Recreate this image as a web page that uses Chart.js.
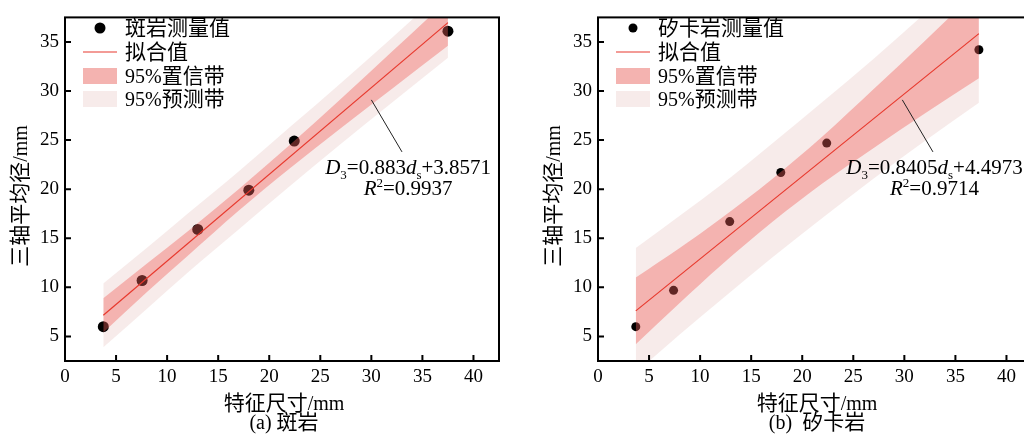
<!DOCTYPE html>
<html>
<head>
<meta charset="utf-8">
<script src="https://cdn.jsdelivr.net/npm/chart.js@4.4.0/dist/chart.umd.min.js"></script>
<style>
  html, body { margin: 0; padding: 0; background: #fff; overflow: hidden; width: 1024px; height: 441px; }
  .panel { position: absolute; top: 0; width: 540px; height: 441px; }
</style>
</head>
<body>
<div class="panel" style="left:0"><canvas id="chartA" width="520" height="441"></canvas></div>
<div class="panel" style="left:533px"><canvas id="chartB" width="520" height="441"></canvas></div>
<script>
const xTicks = [0, 5, 10, 15, 20, 25, 30, 35, 40];
const yTicks = [5, 10, 15, 20, 25, 30, 35];

// (a) 斑岩
const porphyryX = [3.75, 7.55, 13.0, 18.0, 22.45, 37.5];
const porphyryY = [6.0, 10.7, 15.9, 19.9, 24.9, 36.1];
const porphyrySlope = 0.883;
const porphyryIntercept = 3.8571;
const porphyryR2 = '0.9937';
const porphyryBandX = [3.75, 8, 12, 17, 22, 27, 32, 37.5];
const porphyryConfUpper = [8.9, 12.4, 15.7, 20.0, 24.5, 29.2, 34.0, 39.3];
const porphyryConfLower = [5.4, 9.5, 13.2, 17.8, 22.1, 26.2, 30.2, 34.6];
const porphyryPredUpper = [10.4, 14.0, 17.5, 21.8, 26.3, 30.8, 35.4, 40.6];
const porphyryPredLower = [3.9, 7.8, 11.5, 15.9, 20.3, 24.6, 28.8, 33.4];

// (b) 矽卡岩
const skarnX = [3.7, 7.4, 12.9, 17.9, 22.4, 37.3];
const skarnY = [6.0, 9.7, 16.7, 21.7, 24.7, 34.2];
const skarnSlope = 0.8405;
const skarnIntercept = 4.4973;
const skarnR2 = '0.9714';
const skarnBandX = [3.7, 8, 12, 17, 22, 27, 32, 37.3];
const skarnConfUpper = [11.0, 14.0, 17.0, 21.0, 25.4, 30.2, 35.1, 40.4];
const skarnConfLower = [4.2, 8.4, 12.2, 16.6, 20.6, 24.2, 27.7, 31.3];
const skarnPredUpper = [14.0, 17.3, 20.4, 24.6, 28.9, 33.3, 37.9, 42.9];
const skarnPredLower = [1.3, 5.2, 8.7, 13.0, 17.1, 21.1, 24.9, 28.8];

const SERIF = '"Liberation Serif", serif';
const CJK = '"Noto Sans CJK SC", sans-serif';
const RED = '#e8392e';
const CONF_FILL = 'rgba(240, 95, 90, 0.4)';
const PRED_FILL = 'rgba(223, 175, 171, 0.25)';

const pts = (xs, ys) => xs.map((x, i) => ({ x: x, y: ys[i] }));

// text helpers: Chinese runs in the CJK face, the rest in the serif
const isCjk = s => /[\u3400-\u9fff]/.test(s);
const splitRuns = s => s.match(/[\u3400-\u9fff]+|[^\u3400-\u9fff]+/g) || [];
const runFont = s => isCjk(s) ? '21px ' + CJK : '20px ' + SERIF;

function mixedWidth(ctx, str) {
  return splitRuns(str).reduce((w, r) => { ctx.font = runFont(r); return w + ctx.measureText(r).width; }, 0);
}

function drawMixed(ctx, str, x, y, center) {
  let cx = center ? x - mixedWidth(ctx, str) / 2 : x;
  ctx.textAlign = 'left';
  ctx.textBaseline = 'alphabetic';
  splitRuns(str).forEach(r => {
    ctx.font = runFont(r);
    ctx.fillText(r, cx, y + 7);
    cx += ctx.measureText(r).width;
  });
}

function drawRich(ctx, parts, cx, baseline, size) {
  const fontFor = p => (p.italic ? 'italic ' : '') + ((p.sub || p.sup) ? Math.round(size * 0.6) : size) + 'px ' + SERIF;
  let total = 0;
  parts.forEach(p => { ctx.font = fontFor(p); total += ctx.measureText(p.t).width; });
  let x = cx - total / 2;
  ctx.textAlign = 'left';
  ctx.textBaseline = 'alphabetic';
  parts.forEach(p => {
    ctx.font = fontFor(p);
    const dy = p.sub ? size * 0.22 : p.sup ? -size * 0.36 : 0;
    ctx.fillText(p.t, x, baseline + dy);
    x += ctx.measureText(p.t).width;
  });
}

const framePlugin = {
  id: 'frame',
  afterDraw(chart, args, opts) {
    const { ctx, chartArea: a } = chart;
    const xs = chart.scales.x, ys = chart.scales.y;
    ctx.save();

    // box and inward ticks
    ctx.strokeStyle = '#000';
    ctx.lineWidth = 2;
    ctx.strokeRect(a.left, a.top, a.right - a.left, a.bottom - a.top);
    ctx.beginPath();
    xs.ticks.forEach(t => {
      const px = xs.getPixelForValue(t.value);
      ctx.moveTo(px, a.bottom);
      ctx.lineTo(px, a.bottom - 6);
    });
    ys.ticks.forEach(t => {
      const py = ys.getPixelForValue(t.value);
      ctx.moveTo(a.left, py);
      ctx.lineTo(a.left + 6, py);
    });
    ctx.stroke();

    // legend
    const ds = chart.data.datasets;
    const rows = [28, 52, 76, 99];
    ctx.fillStyle = '#000';
    ctx.beginPath();
    ctx.arc(100, rows[0], ds[opts.pointIndex].pointRadius, 0, Math.PI * 2);
    ctx.fill();
    ctx.strokeStyle = RED;
    ctx.lineWidth = 1.2;
    ctx.beginPath();
    ctx.moveTo(83, rows[1]);
    ctx.lineTo(117, rows[1]);
    ctx.stroke();
    ctx.fillStyle = PRED_FILL;
    ctx.fillRect(83, rows[2] - 8, 34, 16);
    ctx.fillStyle = CONF_FILL;
    ctx.fillRect(83, rows[2] - 8, 34, 16);
    ctx.fillStyle = PRED_FILL;
    ctx.fillRect(83, rows[3] - 8, 34, 16);
    ctx.fillStyle = '#000';
    [opts.pointLabel, '拟合值', '95%置信带', '95%预测带'].forEach((t, i) => drawMixed(ctx, t, 125, rows[i], false));

    // fit equation with leader line
    ctx.strokeStyle = '#222';
    ctx.lineWidth = 1;
    ctx.beginPath();
    ctx.moveTo(xs.getPixelForValue(opts.leader[0]), ys.getPixelForValue(opts.leader[1]));
    ctx.lineTo(xs.getPixelForValue(opts.leader[2]), ys.getPixelForValue(opts.leader[3]));
    ctx.stroke();
    const tx = xs.getPixelForValue(opts.textX);
    ctx.fillStyle = '#000';
    drawRich(ctx, [
      { t: 'D', italic: true }, { t: '3', sub: true }, { t: '=' + opts.slope },
      { t: 'd', italic: true }, { t: 's', sub: true }, { t: '+' + opts.intercept }
    ], tx, 174, 21);
    drawRich(ctx, [{ t: 'R', italic: true }, { t: '2', sup: true }, { t: '=' + opts.r2 }], tx, 195, 21);

    // axis titles and caption
    const mid = (a.left + a.right) / 2 + 2;
    drawMixed(ctx, '特征尺寸/mm', mid, 403, true);
    drawMixed(ctx, opts.caption, mid, 422, true);
    ctx.translate(opts.yTitleX, 196);
    ctx.rotate(-Math.PI / 2);
    drawMixed(ctx, '三轴平均径/mm', 0, 0, true);
    ctx.restore();
  }
};

function makePanel(id, p) {
  const x0 = p.bandX[0], x1 = p.bandX[p.bandX.length - 1];
  const fitLine = [{ x: x0, y: p.slope * x0 + p.intercept }, { x: x1, y: p.slope * x1 + p.intercept }];
  const band = (ys, fill, order) => ({
    data: pts(p.bandX, ys), fill: fill, backgroundColor: fill ? (order === 1 ? CONF_FILL : PRED_FILL) : 'transparent',
    borderWidth: 0, pointRadius: 0, order: order, cubicInterpolationMode: 'monotone'
  });
  const tickFont = { family: 'Liberation Serif', size: 19 };
  return new Chart(document.getElementById(id), {
    type: 'line',
    data: {
      datasets: [
        { label: '拟合值', data: fitLine, borderColor: RED, borderWidth: 1.2, pointRadius: 0, fill: false, order: 0 },
        band(p.confUpper, '+1', 1),
        band(p.confLower, false, 1),
        { label: p.pointLabel, data: pts(p.x, p.y), showLine: false, pointRadius: p.radius,
          pointBackgroundColor: '#000', pointBorderWidth: 0, order: 2 },
        band(p.predUpper, '+1', 3),
        band(p.predLower, false, 3)
      ]
    },
    options: {
      responsive: false,
      animation: false,
      events: [],
      layout: { padding: { left: 0, right: 21, top: 11, bottom: 0 } },
      scales: {
        x: {
          type: 'linear', min: 0, max: 42.5,
          afterBuildTicks: s => { s.ticks = xTicks.map(v => ({ value: v })); },
          afterFit: s => { s.height = 80; },
          grid: { display: false, drawTicks: false },
          border: { display: false },
          ticks: { padding: 5, color: '#000', font: tickFont, maxRotation: 0, autoSkip: false }
        },
        y: {
          type: 'linear', min: 2.5, max: 37.5,
          afterBuildTicks: s => { s.ticks = yTicks.map(v => ({ value: v })); },
          afterFit: s => { s.width = 65; },
          grid: { display: false, drawTicks: false },
          border: { display: false },
          ticks: { padding: 6, color: '#000', font: tickFont, autoSkip: false }
        }
      },
      plugins: {
        legend: { display: false },
        tooltip: { enabled: false },
        frame: {
          pointIndex: 3, pointLabel: p.pointLabel, caption: p.caption,
          slope: p.slopeText, intercept: p.interceptText, r2: p.r2,
          leader: p.leader, textX: p.textX, yTitleX: 20
        }
      }
    },
    plugins: [framePlugin]
  });
}

makePanel('chartA', {
  x: porphyryX, y: porphyryY, slope: porphyrySlope, intercept: porphyryIntercept,
  slopeText: '0.883', interceptText: '3.8571', r2: porphyryR2,
  bandX: porphyryBandX, confUpper: porphyryConfUpper, confLower: porphyryConfLower,
  predUpper: porphyryPredUpper, predLower: porphyryPredLower,
  pointLabel: '斑岩测量值', caption: '(a) 斑岩', radius: 5.5,
  leader: [30.0, 29.1, 33.0, 23.8], textX: 33.6
});

makePanel('chartB', {
  x: skarnX, y: skarnY, slope: skarnSlope, intercept: skarnIntercept,
  slopeText: '0.8405', interceptText: '4.4973', r2: skarnR2,
  bandX: skarnBandX, confUpper: skarnConfUpper, confLower: skarnConfLower,
  predUpper: skarnPredUpper, predLower: skarnPredLower,
  pointLabel: '矽卡岩测量值', caption: '(b)  矽卡岩', radius: 4.5,
  leader: [29.8, 29.1, 32.8, 23.8], textX: 32.95
});
</script>
</body>
</html>
